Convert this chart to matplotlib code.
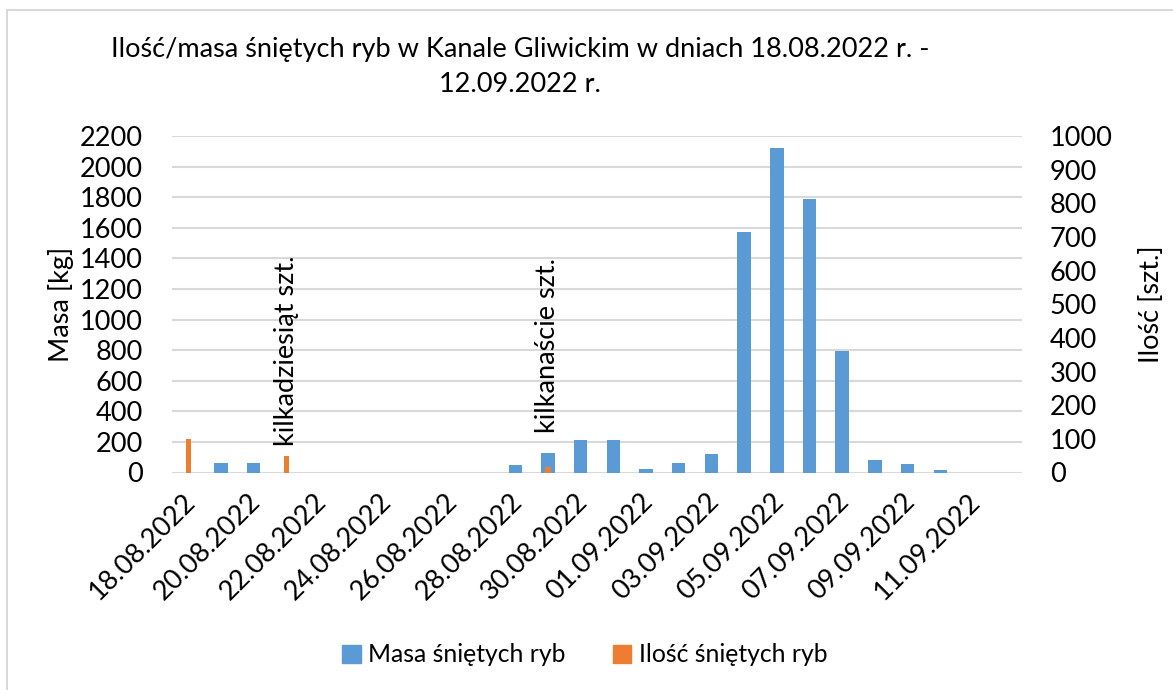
import numpy as np
import matplotlib
matplotlib.use("Agg")
import matplotlib.pyplot as plt
from matplotlib.patches import Rectangle, Patch

plt.rcParams['font.family'] = ['Lato', 'DejaVu Sans']

# dane
dates = ["18.08.2022", "19.08.2022", "20.08.2022", "21.08.2022", "22.08.2022",
         "23.08.2022", "24.08.2022", "25.08.2022", "26.08.2022", "27.08.2022",
         "28.08.2022", "29.08.2022", "30.08.2022", "31.08.2022", "01.09.2022",
         "02.09.2022", "03.09.2022", "04.09.2022", "05.09.2022", "06.09.2022",
         "07.09.2022", "08.09.2022", "09.09.2022", "10.09.2022", "11.09.2022",
         "12.09.2022"]
masa = [0, 60, 60, 0, 0, 0, 0, 0, 0, 0, 50, 130, 210, 215, 20, 65, 120,
        1570, 2120, 1790, 795, 80, 55, 15, 0, 0]
ilosc = [100, 0, 0, 50, 0, 0, 0, 0, 0, 0, 0, 17, 0, 0, 0, 0, 0,
         0, 0, 0, 0, 0, 0, 0, 0, 0]
notes = ["kilkadziesiąt szt.", "kilkanaście szt."]
note_idx = [3, 11]
note_y = [80, 118]

title = "Ilość/masa śniętych ryb w Kanale Gliwickim w dniach 18.08.2022 r. -\n12.09.2022 r."

blue = "#5B9BD5"
orange = "#ED7D31"
grid = "#D9D9D9"
fs = 19.5

fig = plt.figure(figsize=(11.73, 6.9), dpi=100)
ax = fig.add_axes([172/1173, 1 - 472.5/690, 850/1173, 336.5/690])
ax2 = ax.twinx()

x = np.arange(len(dates))
ax.bar(x, masa, width=0.41, color=blue, zorder=2)
ax2.bar(x, ilosc, width=0.17, color=orange, zorder=2)

ax.set_xlim(-0.5, len(dates) - 0.5)
ax.set_ylim(0, 2200)
ax.set_yticks(np.arange(0, 2201, 200))
ax2.set_ylim(0, 1000)
ax2.set_yticks(np.arange(0, 1001, 100))

ax.grid(axis='y', color=grid, lw=1.5, zorder=0)
ax.set_axisbelow(True)
for a in (ax, ax2):
    for s in a.spines.values():
        s.set_visible(False)
ax.tick_params(axis='y', length=0, pad=21, labelsize=fs)
ax2.tick_params(axis='y', length=0, pad=20, labelsize=fs)
ax.tick_params(axis='x', length=0, pad=18, labelsize=fs)

ax.set_xticks(x[::2] + 0.1)
ax.set_xticklabels(dates[::2], rotation=45, ha='right', va='center',
                   rotation_mode='anchor')

ax.set_ylabel("Masa [kg]", fontsize=fs)
ax.yaxis.set_label_coords((74 - 172) / 850, 0.5)
ax2.set_ylabel("Ilość [szt.]", fontsize=fs, rotation=90)
ax2.yaxis.set_label_coords((1139 - 172) / 850, 0.5)

for s, i, yy in zip(notes, note_idx, note_y):
    ax2.text(i, yy, s, rotation=90, ha='center', va='bottom',
             fontsize=fs, zorder=5)

fig.text(520/1173, 1 - 67/690, title, ha='center', va='center',
         fontsize=fs, linespacing=1.5)

handles = [Patch(color=blue, label="Masa śniętych ryb"),
           Patch(color=orange, label="Ilość śniętych ryb")]
fig.legend(handles=handles, loc='center', bbox_to_anchor=(585/1173, 1 - 655/690),
           ncol=2, frameon=False, fontsize=17.8, handlelength=0.75,
           handleheight=0.75, handletextpad=0.3, columnspacing=1.9)

fig.patches.append(Rectangle((7/1173, -0.1), 1.2, 680/690 + 0.1,
                             transform=fig.transFigure, fill=False,
                             ec=grid, lw=1.5))

fig.savefig("out.png", dpi=100)
